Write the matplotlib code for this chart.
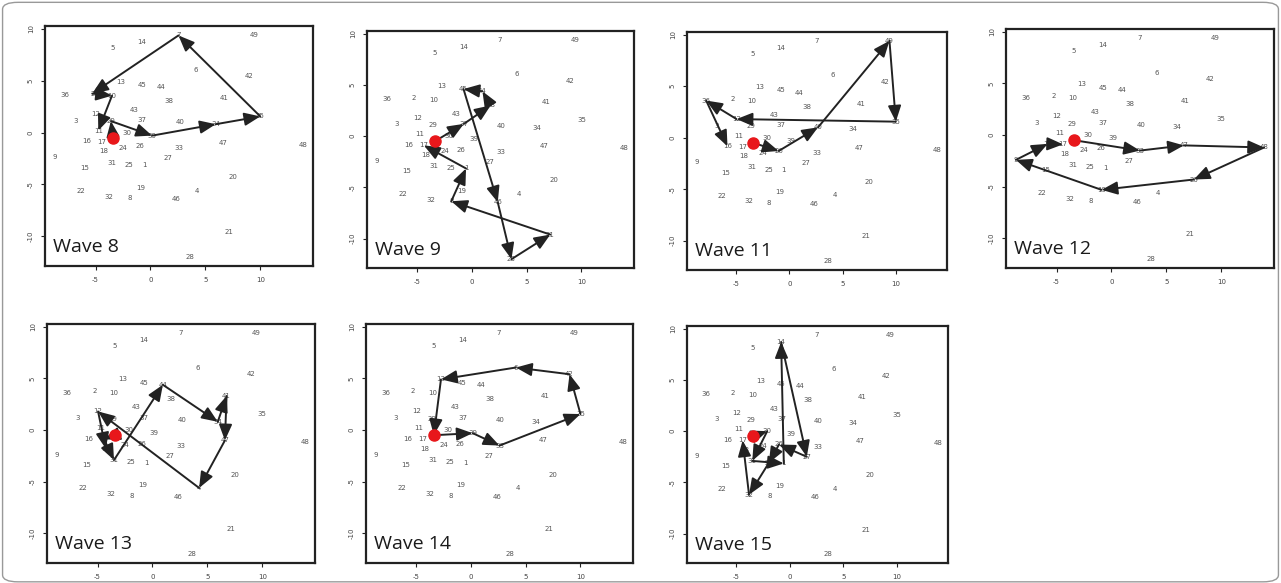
import matplotlib
matplotlib.use("Agg")
import matplotlib.pyplot as plt
from matplotlib.patches import FancyBboxPatch

# ---- data ----
point_ids = list(range(1, 50))
point_x = [-0.55, -5.3, -6.85, 4.25, -3.45, 4.1, 2.55, -1.9, -8.7, -3.5,
           -4.75, -4.95, -2.75, -0.8, -6.0, -5.8, -4.4, -4.25, -0.9, 7.5,
           7.15, -6.3, -3.4, -2.5, -1.95, -1.0, 1.6, 3.6, -3.6, -2.1,
           -3.5, -3.8, 2.6, 5.95, 10.0, -7.8, -0.75, 1.7, 0.15, 2.7,
           6.75, 9.0, -1.45, 0.95, -0.78, 2.35, 6.6, 13.9, 9.4]
point_y = [-3.15, 3.75, 1.15, -5.6, 8.1, 6.05, 9.35, -6.35, -2.4, 3.55,
           0.18, 1.8, 4.9, 8.7, -3.4, -0.85, -0.9, -1.8, -5.3, -4.3,
           -9.6, -5.65, -0.5, -1.45, -3.1, -1.3, -2.5, -12.0, 1.1, 0.0,
           -2.9, -6.2, -1.5, 0.8, 1.55, 3.6, 1.2, 3.0, -0.3, 1.0,
           3.3, 5.4, 2.2, 4.38, 4.6, -6.45, -1.0, -1.2, 9.4]
red_point = 23

wave_titles = ["Wave 8", "Wave 9", "Wave 11", "Wave 12", "Wave 13", "Wave 14", "Wave 15"]
wave_paths = [
    [23, 29, 39, 34, 35, 7, 2, 10, 11],
    [23, 37, 38, 44, 45, 46, 28, 21, 8, 1, 17],
    [23, 26, 40, 49, 35, 12, 36, 16],
    [23, 33, 47, 48, 20, 19, 9, 16, 17],
    [23, 17, 31, 44, 34, 41, 47, 4, 12, 18],
    [23, 39, 33, 35, 42, 6, 13, 23],
    [23, 30, 31, 1, 14, 27, 26, 25, 32, 17],
]

x_ticks = [-5, 0, 5, 10]
y_ticks = [-10, -5, 0, 5, 10]

# panel boxes in pixels: left, right, top, bottom
W, H = 1281, 583
panel_px = [
    (45, 313, 26, 266), (367, 634, 31, 268), (687, 947, 32, 270), (1006, 1274, 29, 268),
    (47, 315, 324, 563), (366, 633, 324, 563), (687, 948, 326, 563),
]

fig = plt.figure(figsize=(W / 100, H / 100), dpi=100)
fig.patch.set_facecolor("white")

pos = dict(zip(point_ids, zip(point_x, point_y)))

for title, path, (l, r, t, b) in zip(wave_titles, wave_paths, panel_px):
    ax = fig.add_axes([l / W, 1 - b / H, (r - l) / W, (b - t) / H])
    ax.set_xlim(-9.6, 14.8)
    ax.set_ylim(-12.86, 10.26)
    for s in ax.spines.values():
        s.set_linewidth(1.6)
        s.set_color("#222222")
    ax.set_xticks(x_ticks)
    ax.set_yticks(y_ticks)
    ax.set_xticklabels([str(v) for v in x_ticks])
    ax.set_yticklabels([str(v) for v in y_ticks], rotation=90, va="center")
    ax.tick_params(axis="both", labelsize=5, colors="#222222", length=3, width=0.8,
                   labelcolor="#444444", pad=5)
    for pid, px, py in zip(point_ids, point_x, point_y):
        ax.text(px, py, str(pid), fontsize=5, color="#555555", ha="center", va="center", zorder=1)
    for a, bb in zip(path[:-1], path[1:]):
        ax.annotate("", xy=pos[bb], xytext=pos[a],
                    arrowprops=dict(arrowstyle="-|>,head_length=0.8,head_width=0.33",
                                    mutation_scale=12, color="#222222", lw=1.4,
                                    shrinkA=0, shrinkB=0), zorder=3)
    rx, ry = pos[red_point]
    ax.plot([rx], [ry], "o", color="#e8171b", markersize=8, zorder=4)
    ax.text(0.03, 0.04, title, transform=ax.transAxes, fontsize=14, color="#1a1a1a",
            ha="left", va="bottom", family="Open Sans")

border = FancyBboxPatch((0.002, 0.002), 0.996, 0.994,
                        boxstyle="round,pad=0,rounding_size=0.012",
                        transform=fig.transFigure, fc="none", ec="#999999", lw=1.0)
fig.patches.append(border)

fig.savefig("out.png", dpi=100)
